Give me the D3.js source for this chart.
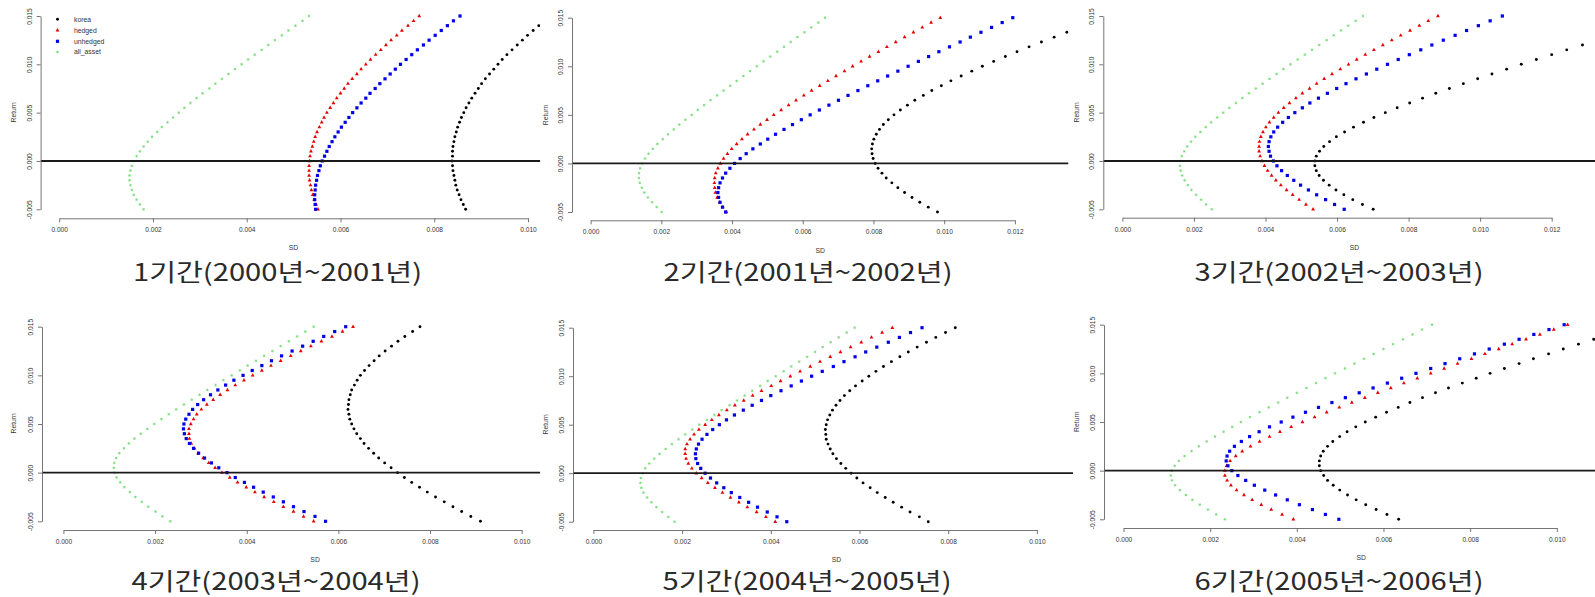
<!DOCTYPE html>
<html><head><meta charset="utf-8">
<script src="https://cdn.jsdelivr.net/npm/d3@7"></script>
<style>
html,body{margin:0;padding:0;background:#fff;}
svg{display:block;background:#fff;}
</style></head>
<body><svg id="chart" width="1595" height="597"></svg>
<script>
// Return levels of the frontier points (y values)
const returns = [-0.005,-0.0045,-0.004,-0.0035,-0.003,-0.0025,-0.002,-0.0015,-0.001,-0.0005,0,0.0005,0.001,0.0015,0.002,0.0025,0.003,0.0035,0.004,0.0045,0.005,0.0055,0.006,0.0065,0.007,0.0075,0.008,0.0085,0.009,0.0095,0.010,0.0105,0.011,0.0115,0.012,0.0125,0.013,0.0135,0.014,0.0145,0.015];

// SD values (in units of 0.001), one per return level
const p1Korea    = [8.67,8.62,8.57,8.53,8.49,8.46,8.44,8.42,8.40,8.39,8.38,8.39,8.39,8.40,8.42,8.44,8.47,8.50,8.54,8.58,8.63,8.68,8.74,8.80,8.87,8.94,9.01,9.09,9.18,9.27,9.36,9.45,9.55,9.66,9.77,9.88,9.99,10.11,10.23,10.35,10.48];
const p1Hedged   = [5.52,5.48,5.44,5.41,5.38,5.36,5.34,5.33,5.33,5.33,5.34,5.35,5.37,5.40,5.43,5.46,5.50,5.55,5.60,5.65,5.71,5.78,5.85,5.92,6.00,6.08,6.16,6.25,6.35,6.44,6.54,6.64,6.75,6.86,6.97,7.08,7.20,7.31,7.44,7.56,7.68];
const p1Unhedged = [5.47,5.46,5.45,5.45,5.46,5.47,5.49,5.51,5.54,5.57,5.61,5.66,5.71,5.76,5.82,5.88,5.95,6.02,6.10,6.18,6.26,6.35,6.44,6.54,6.63,6.74,6.84,6.95,7.06,7.17,7.28,7.40,7.52,7.64,7.77,7.89,8.02,8.15,8.28,8.41,8.55];
const p1All      = [1.80,1.72,1.65,1.59,1.55,1.52,1.50,1.50,1.52,1.55,1.59,1.65,1.72,1.80,1.89,1.98,2.09,2.19,2.31,2.43,2.55,2.67,2.80,2.93,3.06,3.20,3.33,3.47,3.61,3.75,3.89,4.03,4.17,4.32,4.46,4.60,4.75,4.89,5.04,5.19,5.33];

const p2Korea    = [9.81,9.55,9.31,9.09,8.88,8.69,8.52,8.36,8.24,8.13,8.05,7.99,7.96,7.95,7.97,8.01,8.08,8.17,8.28,8.42,8.58,8.76,8.96,9.17,9.41,9.65,9.92,10.19,10.48,10.78,11.08,11.40,11.73,12.06,12.40,12.75,13.11,13.47,13.83,14.20,14.58];
const p2Hedged   = [3.84,3.74,3.65,3.58,3.53,3.51,3.50,3.51,3.54,3.60,3.67,3.76,3.87,3.99,4.13,4.28,4.44,4.62,4.80,4.99,5.18,5.39,5.60,5.81,6.03,6.25,6.48,6.71,6.94,7.18,7.41,7.65,7.89,8.14,8.38,8.63,8.88,9.13,9.38,9.63,9.89];
const p2Unhedged = [3.82,3.73,3.66,3.62,3.60,3.62,3.66,3.73,3.82,3.94,4.07,4.23,4.40,4.59,4.80,5.01,5.23,5.47,5.71,5.96,6.21,6.47,6.74,7.01,7.28,7.56,7.84,8.12,8.40,8.69,8.98,9.27,9.56,9.85,10.15,10.45,10.74,11.04,11.34,11.64,11.94];
const p2All      = [2.01,1.87,1.74,1.62,1.52,1.45,1.39,1.37,1.37,1.40,1.46,1.54,1.64,1.76,1.89,2.04,2.19,2.35,2.51,2.68,2.86,3.03,3.21,3.39,3.58,3.76,3.95,4.13,4.32,4.51,4.70,4.89,5.08,5.28,5.47,5.66,5.85,6.05,6.24,6.44,6.63];

const p3Korea    = [7.01,6.71,6.44,6.19,5.97,5.78,5.62,5.50,5.42,5.38,5.38,5.42,5.51,5.63,5.79,5.98,6.21,6.46,6.74,7.03,7.35,7.68,8.03,8.39,8.76,9.14,9.53,9.93,10.33,10.74,11.15,11.57,12.00,12.42,12.86,13.29,13.73,14.17,14.61,15.05,15.50];
const p3Hedged   = [5.33,5.13,4.94,4.76,4.59,4.43,4.29,4.17,4.06,3.97,3.90,3.85,3.82,3.82,3.83,3.87,3.93,4.01,4.11,4.23,4.36,4.51,4.67,4.85,5.03,5.23,5.43,5.64,5.86,6.09,6.32,6.55,6.79,7.03,7.28,7.53,7.78,8.04,8.30,8.55,8.82];
const p3Unhedged = [6.20,5.93,5.68,5.43,5.20,4.98,4.79,4.61,4.45,4.32,4.22,4.14,4.10,4.08,4.10,4.15,4.23,4.34,4.48,4.64,4.82,5.03,5.24,5.48,5.73,5.99,6.25,6.53,6.82,7.11,7.41,7.71,8.02,8.34,8.65,8.97,9.30,9.62,9.95,10.28,10.62];
const p3All      = [2.50,2.34,2.20,2.06,1.93,1.83,1.74,1.67,1.63,1.61,1.62,1.66,1.73,1.81,1.92,2.04,2.18,2.33,2.48,2.65,2.82,2.99,3.17,3.35,3.54,3.73,3.92,4.11,4.31,4.50,4.70,4.90,5.10,5.30,5.50,5.71,5.91,6.11,6.31,6.52,6.72];

const p4Korea    = [9.10,8.89,8.69,8.50,8.31,8.12,7.94,7.77,7.60,7.44,7.29,7.15,7.01,6.88,6.77,6.66,6.56,6.48,6.40,6.34,6.29,6.25,6.23,6.21,6.22,6.23,6.26,6.29,6.35,6.41,6.48,6.57,6.67,6.78,6.89,7.02,7.16,7.30,7.45,7.62,7.78];
const p4Hedged   = [5.46,5.24,5.02,4.80,4.59,4.38,4.18,3.99,3.80,3.63,3.46,3.31,3.17,3.05,2.94,2.86,2.79,2.75,2.74,2.74,2.78,2.84,2.91,3.01,3.13,3.27,3.42,3.58,3.75,3.94,4.13,4.33,4.53,4.74,4.96,5.18,5.40,5.63,5.86,6.09,6.32];
const p4Unhedged = [5.72,5.49,5.25,5.02,4.80,4.58,4.36,4.15,3.95,3.75,3.57,3.39,3.23,3.08,2.95,2.84,2.75,2.68,2.64,2.62,2.63,2.67,2.74,2.82,2.93,3.06,3.21,3.37,3.54,3.72,3.92,4.12,4.33,4.54,4.76,4.99,5.22,5.45,5.68,5.92,6.16];
const p4All      = [2.33,2.16,2.01,1.85,1.71,1.57,1.45,1.33,1.24,1.16,1.12,1.10,1.11,1.15,1.22,1.32,1.43,1.55,1.69,1.83,1.98,2.14,2.30,2.46,2.63,2.80,2.97,3.14,3.32,3.49,3.67,3.85,4.02,4.20,4.38,4.56,4.74,4.92,5.10,5.28,5.46];

const p5Korea    = [7.55,7.35,7.14,6.95,6.76,6.58,6.40,6.24,6.08,5.94,5.81,5.69,5.58,5.48,5.40,5.34,5.29,5.25,5.24,5.23,5.25,5.28,5.33,5.39,5.47,5.56,5.66,5.78,5.91,6.06,6.21,6.37,6.54,6.72,6.91,7.10,7.30,7.51,7.72,7.94,8.16];
const p5Hedged   = [4.10,3.89,3.68,3.47,3.28,3.09,2.91,2.74,2.58,2.44,2.32,2.22,2.14,2.09,2.07,2.07,2.11,2.18,2.27,2.38,2.52,2.67,2.83,3.01,3.19,3.39,3.59,3.79,4.01,4.22,4.44,4.66,4.89,5.11,5.34,5.57,5.80,6.04,6.27,6.51,6.74];
const p5Unhedged = [4.36,4.14,3.92,3.70,3.50,3.30,3.11,2.94,2.78,2.64,2.52,2.42,2.35,2.31,2.30,2.32,2.37,2.45,2.56,2.69,2.84,3.00,3.18,3.38,3.58,3.79,4.00,4.23,4.46,4.69,4.92,5.16,5.41,5.65,5.90,6.14,6.39,6.65,6.90,7.15,7.41];
const p5All      = [1.83,1.69,1.55,1.42,1.31,1.21,1.13,1.08,1.06,1.07,1.11,1.17,1.26,1.37,1.49,1.63,1.77,1.92,2.07,2.23,2.39,2.56,2.73,2.89,3.07,3.24,3.41,3.58,3.76,3.93,4.11,4.29,4.46,4.64,4.82,5.00,5.17,5.35,5.53,5.71,5.89];

const p6Korea    = [6.35,6.08,5.83,5.59,5.37,5.17,4.99,4.84,4.71,4.62,4.55,4.52,4.52,4.55,4.61,4.71,4.83,4.99,5.16,5.36,5.58,5.82,6.07,6.34,6.61,6.90,7.20,7.50,7.82,8.14,8.46,8.79,9.13,9.46,9.81,10.15,10.50,10.85,11.20,11.56,11.92];
const p6Hedged   = [3.92,3.66,3.41,3.18,2.97,2.78,2.61,2.48,2.39,2.34,2.34,2.38,2.46,2.59,2.74,2.93,3.14,3.37,3.61,3.87,4.13,4.41,4.69,4.98,5.27,5.57,5.87,6.17,6.47,6.78,7.09,7.40,7.71,8.03,8.34,8.66,8.97,9.29,9.61,9.93,10.25];
const p6Unhedged = [4.97,4.66,4.36,4.06,3.78,3.51,3.26,3.02,2.82,2.64,2.50,2.41,2.37,2.39,2.45,2.56,2.72,2.91,3.13,3.37,3.64,3.91,4.20,4.50,4.81,5.12,5.44,5.76,6.09,6.42,6.75,7.09,7.42,7.76,8.10,8.44,8.79,9.13,9.47,9.82,10.17];
const p6All      = [2.34,2.14,1.95,1.76,1.59,1.44,1.30,1.19,1.12,1.09,1.11,1.18,1.28,1.41,1.57,1.74,1.92,2.11,2.31,2.51,2.71,2.92,3.14,3.35,3.57,3.78,4.00,4.22,4.44,4.66,4.88,5.11,5.33,5.55,5.77,6.00,6.22,6.45,6.67,6.89,7.12];

const seriesNames = ["korea","hedged","unhedged","all_asset"];
const periodTitles = ["1기간(2000년~2001년)","2기간(2001년~2002년)","3기간(2002년~2003년)",
                      "4기간(2003년~2004년)","5기간(2004년~2005년)","6기간(2005년~2006년)"];
const yTicks = [-0.005,0,0.005,0.010,0.015];
const xTicks10 = [0,2,4,6,8,10];     // SD ticks in units of 0.001
const xTicks12 = [0,2,4,6,8,10,12];

const panelData = [
  [p1Korea,p1Hedged,p1Unhedged,p1All],
  [p2Korea,p2Hedged,p2Unhedged,p2All],
  [p3Korea,p3Hedged,p3Unhedged,p3All],
  [p4Korea,p4Hedged,p4Unhedged,p4All],
  [p5Korea,p5Hedged,p5Unhedged,p5All],
  [p6Korea,p6Hedged,p6Unhedged,p6All]
];
const panelXTicks = [xTicks10,xTicks12,xTicks12,xTicks10,xTicks10,xTicks10];

// ---- layout (pixel positions) ----
const layout = [
  {x0:59.2,  x1:528.0,  yTop:16.0,  yBot:209.3, axX:40.6,   axY:218.3, right:540.3, sdX:293.4,  sdY:247.3, retX:13.8,   retY:112.3, capX:277.5, capY:281},
  {x0:590.6, x1:1014.9, yTop:17.7,  yBot:212.0, axX:572.0,  axY:220.3, right:1068.5,sdX:820.3,  sdY:250.7, retX:545.5,  retY:115.0, capX:808,   capY:281},
  {x0:1122.4,x1:1551.7, yTop:16.0,  yBot:209.3, axX:1103.3, axY:217.7, right:1600,  sdX:1354.5, sdY:247.3, retX:1076.4, retY:112.3, capX:1339,  capY:281},
  {x0:63.4,  x1:521.7,  yTop:326.7, yBot:521.3, axX:42.0,   axY:530.0, right:540.3, sdX:315.1,  sdY:560.0, retX:13.8,   retY:423.3, capX:276,   capY:590},
  {x0:593.4, x1:1036.9, yTop:327.7, yBot:521.7, axX:573.0,  axY:530.0, right:1073,  sdX:836.5,  sdY:560.0, retX:545.5,  retY:424.3, capX:807,   capY:590},
  {x0:1123.5,x1:1556.8, yTop:324.7, yBot:519.3, axX:1104.0, axY:528.0, right:1600,  sdX:1361.3, sdY:557.3, retX:1076.4, retY:421.7, capX:1339,  capY:590}
];
const colors = {korea:"#000000", hedged:"#e60000", unhedged:"#0000e6", all_asset:"#7ddc7d"};
const FONT = "'Liberation Sans', Arial, sans-serif";

const svg = d3.select("#chart");
svg.append("rect").attr("width",1595).attr("height",597).attr("fill","#fff");

function drawMarker(g, name, cx, cy) {
  if (name === "korea") {
    g.append("circle").attr("cx",cx).attr("cy",cy).attr("r",1.45).attr("fill",colors.korea);
  } else if (name === "hedged") {
    g.append("path").attr("d",`M${cx},${cy-2.2}L${cx+1.9},${cy+1.2}L${cx-1.9},${cy+1.2}Z`).attr("fill",colors.hedged);
  } else if (name === "unhedged") {
    g.append("rect").attr("x",cx-1.6).attr("y",cy-1.6).attr("width",3.2).attr("height",3.2).attr("fill",colors.unhedged);
  } else {
    const s=1.3, t=0.95;
    g.append("path").attr("d",`M${cx-s},${cy}H${cx+s}M${cx},${cy-s}V${cy+s}M${cx-t},${cy-t}L${cx+t},${cy+t}M${cx-t},${cy+t}L${cx+t},${cy-t}`)
      .attr("stroke",colors.all_asset).attr("stroke-width",0.8).attr("fill","none");
  }
}

layout.forEach((L, pi) => {
  const ticks = panelXTicks[pi];
  const xMax = ticks[ticks.length-1];
  const x = d3.scaleLinear().domain([0, xMax]).range([L.x0, L.x1]);
  const y = d3.scaleLinear().domain([-0.005, 0.015]).range([L.yBot, L.yTop]);
  const g = svg.append("g");
  const clipTop = y(0.0158);
  const clipId = "clip" + pi;
  svg.append("clipPath").attr("id", clipId).append("rect")
    .attr("x", L.axX).attr("y", clipTop).attr("width", L.right - L.axX).attr("height", L.axY - clipTop);

  // points
  const pg = g.append("g").attr("clip-path", `url(#${clipId})`);
  panelData[pi].forEach((vals, si) => {
    const name = seriesNames[si];
    vals.forEach((v, i) => drawMarker(pg, name, x(v), y(returns[i])));
  });
  // horizontal line at 0
  pg.append("line").attr("x1", L.axX).attr("x2", L.right).attr("y1", y(0)).attr("y2", y(0))
    .attr("stroke", "#1a1a1a").attr("stroke-width", 1.8);

  // axes
  const xa = g.append("g").attr("transform", `translate(0,${L.axY})`)
    .call(d3.axisBottom(x).tickValues(ticks).tickSize(4).tickSizeOuter(0).tickPadding(5.5)
      .tickFormat(d => (d/1000).toFixed(3)));
  const ya = g.append("g").attr("transform", `translate(${L.axX},0)`)
    .call(d3.axisLeft(y).tickValues(yTicks).tickSize(4).tickSizeOuter(0)
      .tickFormat(d => d.toFixed(3)));
  [xa, ya].forEach(a => {
    a.select(".domain").attr("stroke", "#666").attr("stroke-width", 0.9);
    a.selectAll(".tick line").attr("stroke", "#666").attr("stroke-width", 0.9);
    a.selectAll("text").attr("fill", "#333").style("font-family", FONT).style("font-size", "6.6px");
  });
  ya.selectAll("text").attr("transform", "rotate(-90)").attr("x", 0).attr("y", -11.3)
    .attr("dy", "0.35em").attr("text-anchor", "middle");

  // axis titles
  g.append("text").attr("x", L.sdX).attr("y", L.sdY).attr("dy", "0.35em").attr("text-anchor", "middle")
    .style("font-family", FONT).style("font-size", "6.8px").attr("fill", "#333").text("SD");
  g.append("text").attr("transform", `translate(${L.retX},${L.retY}) rotate(-90)`)
    .attr("dy", "0.35em").attr("text-anchor", "middle")
    .style("font-family", FONT).style("font-size", "6.8px").attr("fill", "#333").text("Return");

  // caption
  g.append("text").attr("x", L.capX).attr("y", L.capY).attr("text-anchor", "middle")
    .attr("textLength", 289).attr("lengthAdjust", "spacingAndGlyphs")
    .style("font-family", "'Noto Sans CJK KR', 'Noto Sans', sans-serif").style("font-size", "24px")
    .attr("fill", "#2a2a2a").text(periodTitles[pi]);

  // legend (first panel only)
  if (pi === 0) {
    const lg = g.append("g");
    const rowsY = [19.3, 30.3, 41.3, 52.0];
    seriesNames.forEach((name, k) => {
      drawMarker(lg, name, 57.5, rowsY[k]);
      lg.append("text").attr("x", 74).attr("y", rowsY[k]).attr("dy", "0.35em")
        .style("font-family", FONT).style("font-size", "6.8px").attr("fill", "#333").text(name);
    });
  }
});
</script>
</body></html>
